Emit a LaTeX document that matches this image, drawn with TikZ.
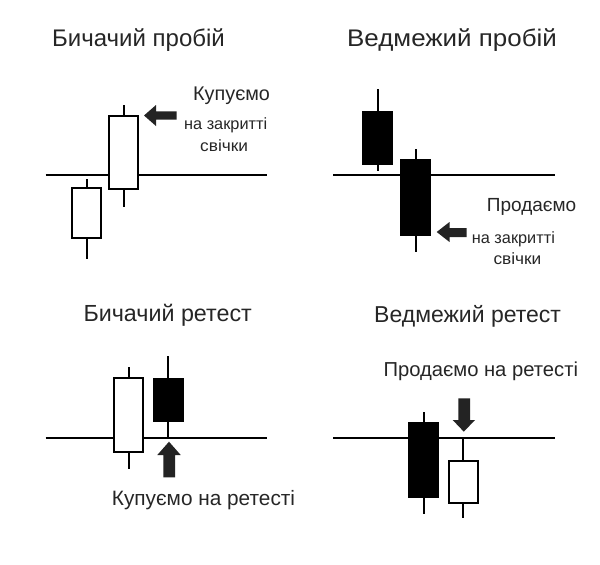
\documentclass[tikz,border=0pt]{standalone}
\usepackage{fontspec}
\setmainfont{Liberation Sans}
\usetikzlibrary{calc}
\definecolor{txt}{HTML}{262626}
\definecolor{arr}{HTML}{232323}
\newcommand\drawcandle[6]{% x, wicktop, bodytop, bodybottom, wickbottom, fill
  \draw[wick] (#1,#2) -- (#1,#3);
  \draw[wick] (#1,#4) -- (#1,#5);
  \draw[body,fill=#6] ($(#1,#3)+(-14.5,0)$) rectangle ($(#1,#4)+(14.5,0)$);
}
\newcommand\stretched[2]{\scalebox{#1}[1]{#2}}
\newcommand\fsz[1]{\fontsize{#1}{#1}\selectfont}
\begin{document}
\begin{tikzpicture}[x=1pt,y=-1pt,
  wick/.style={line width=2pt},
  body/.style={line width=2pt,draw=black},
  level/.style={line width=2pt},
  txtnode/.style={text=txt,inner sep=0pt,anchor=west},
  bigarrow/.style={fill=arr,draw=none}]
\useasboundingbox[fill=white] (0,0) rectangle (600,565);

% ---- titles
\node[txtnode,font=\fsz{24}] (t1) at (52,40) {Бичачий пробій};
\node[txtnode,font=\fsz{24}] (t2) at (347,40) {\stretched{1.08}{Ведмежий пробій}};
\node[txtnode,font=\fsz{23.3}] (t3) at (83.3,315) {Бичачий ретест};
\node[txtnode,font=\fsz{23}] (t4) at (374,316.7) {Ведмежий ретест};

% ---- level lines
\coordinate (l1a) at (45.7,174.5); \coordinate (l1b) at (266.7,174.5);
\coordinate (l2a) at (333.3,174.7); \coordinate (l2b) at (555,174.7);
\coordinate (l3a) at (45.7,438.3); \coordinate (l3b) at (266.7,438.3);
\coordinate (l4a) at (333.3,438.3); \coordinate (l4b) at (555,438.3);
\draw[level] (l1a) -- (l1b);
\draw[level] (l2a) -- (l2b);
\draw[level] (l3a) -- (l3b);
\draw[level] (l4a) -- (l4b);

% ---- candles: bullish breakout
\drawcandle{86.7}{179.3}{188.3}{238.3}{259.3}{white}
\drawcandle{123.7}{105}{116}{189.3}{207.3}{white}
% bearish breakout
\drawcandle{377.5}{89.3}{112.3}{164.3}{171}{black}
\drawcandle{415.5}{149}{160.3}{235}{251.7}{black}
% bullish retest
\drawcandle{128.5}{367.3}{378.3}{451.7}{469.3}{white}
\drawcandle{168.3}{356}{379}{420.7}{438.3}{black}
% bearish retest
\drawcandle{423.7}{412.3}{422.7}{496.7}{514.3}{black}
\drawcandle{463.3}{438.3}{461}{502.7}{518.3}{white}

% ---- arrows
\fill[bigarrow] (144,115.5) -- (156,105) -- (156,111.3) -- (176.7,111.3) -- (176.7,119.7) -- (156,119.7) -- (156,126) -- cycle;
\fill[bigarrow] (436.7,232) -- (449.5,222) -- (449.5,228) -- (466.7,228) -- (466.7,237) -- (449.5,237) -- (449.5,242) -- cycle;
\fill[bigarrow] (169,441.7) -- (180.7,455) -- (175,455) -- (175,477.3) -- (163.3,477.3) -- (163.3,455) -- (157.3,455) -- cycle;
\fill[bigarrow] (463.8,431.7) -- (475,420) -- (470,420) -- (470,398.3) -- (458.3,398.3) -- (458.3,420) -- (452.7,420) -- cycle;

% ---- labels
\node[txtnode,font=\fsz{19.8}] (b1) at (193,96) {Купуємо};
\node[txtnode,font=\fsz{16.3}] (b2) at (184,125) {на закритті};
\node[txtnode,font=\fsz{16.3}] (b3) at (200,145.7) {\stretched{1.06}{свічки}};
\node[txtnode,font=\fsz{19}] (s1) at (486.7,207.3) {Продаємо};
\node[txtnode,font=\fsz{16.3}] (s2) at (471.7,239.3) {на закритті};
\node[txtnode,font=\fsz{16.3}] (s3) at (493.3,258.3) {\stretched{1.06}{свічки}};
\node[txtnode,font=\fsz{20.8}] (b4) at (111.7,500) {Купуємо на ретесті};
\node[txtnode,font=\fsz{20.2}] (s4) at (383.3,371.7) {Продаємо на ретесті};
\end{tikzpicture}
\end{document}
